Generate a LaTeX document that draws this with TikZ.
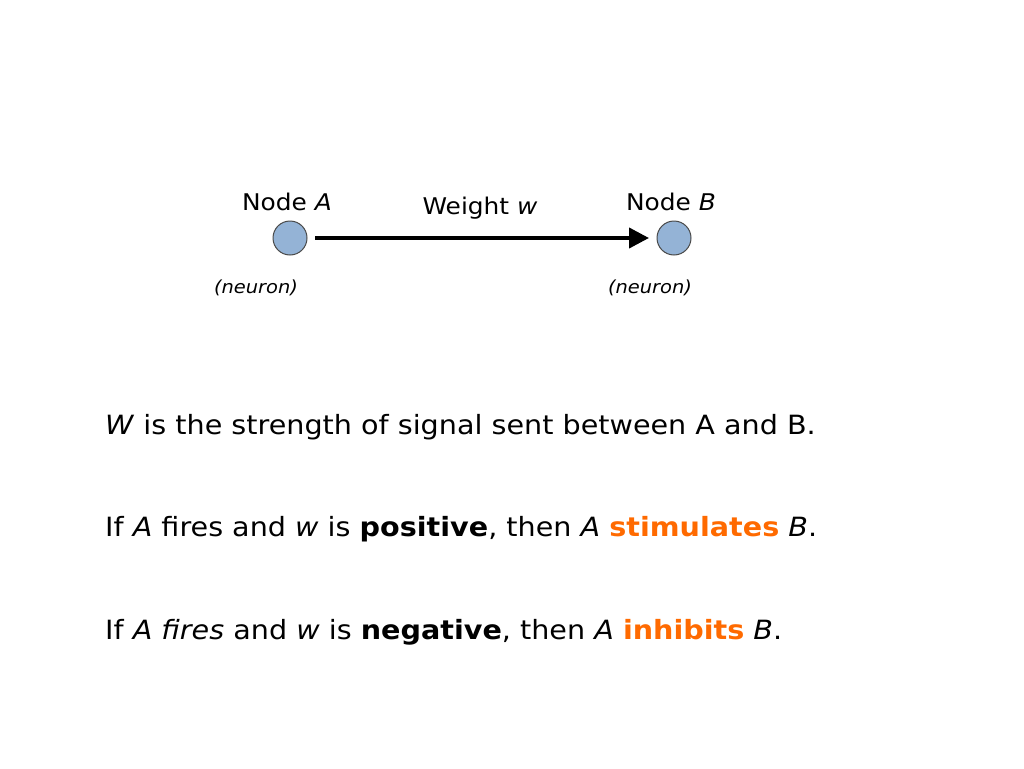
\documentclass[tikz,border=0pt]{standalone}
\usepackage{fontspec}
\setmainfont{DejaVu Sans}[FakeStretch=1.08]
\usetikzlibrary{arrows.meta}
\definecolor{nfill}{HTML}{94B3D6}
\definecolor{nline}{HTML}{4A4A4A}
\definecolor{org}{HTML}{FF6A00}
\begin{document}
\begin{tikzpicture}[x=1pt,y=-1pt,
  neuron/.style={circle,draw=nline,fill=nfill,line width=1pt,minimum size=34pt,inner sep=0pt},
  lbl/.style={font=\fontsize{23}{26}\selectfont},
  small/.style={font=\fontsize{18}{21}\selectfont\itshape},
  body/.style={anchor=base west,inner sep=0pt,font=\fontsize{26.5}{30}\selectfont}]
\useasboundingbox (0,0) rectangle (1024,768);
\node[neuron] (a) at (290,238) {};
\node[neuron] (b) at (674,238) {};
\coordinate (s) at (315,238);
\coordinate (e) at (649,238);
\draw[line width=4pt,-{Triangle[length=20pt,width=20pt]}] (s) -- (e);
\node[lbl] (la) at (287,202) {Node \textit{A}};
\node[lbl] (lw) at (480,208) {Weight \textit{w}};
\node[lbl] (lb) at (671,202) {Node \textit{B}};
\node[small] (na) at (256,288) {(neuron)};
\node[small] (nb) at (650,288) {(neuron)};
\node[body] (t1) at (105,434) {\textit{W} is the strength of signal sent between A and B.};
\node[body] (t2) at (105,536) {If \textit{A} fires and \textit{w} is \textbf{positive}, then \textit{A} \textcolor{org}{\textbf{stimulates}} \textit{B}.};
\node[body] (t3) at (105,639) {If \textit{A fires} and \textit{w} is \textbf{negative}, then \textit{A} \textcolor{org}{\textbf{inhibits}} \textit{B}.};
\end{tikzpicture}
\end{document}
